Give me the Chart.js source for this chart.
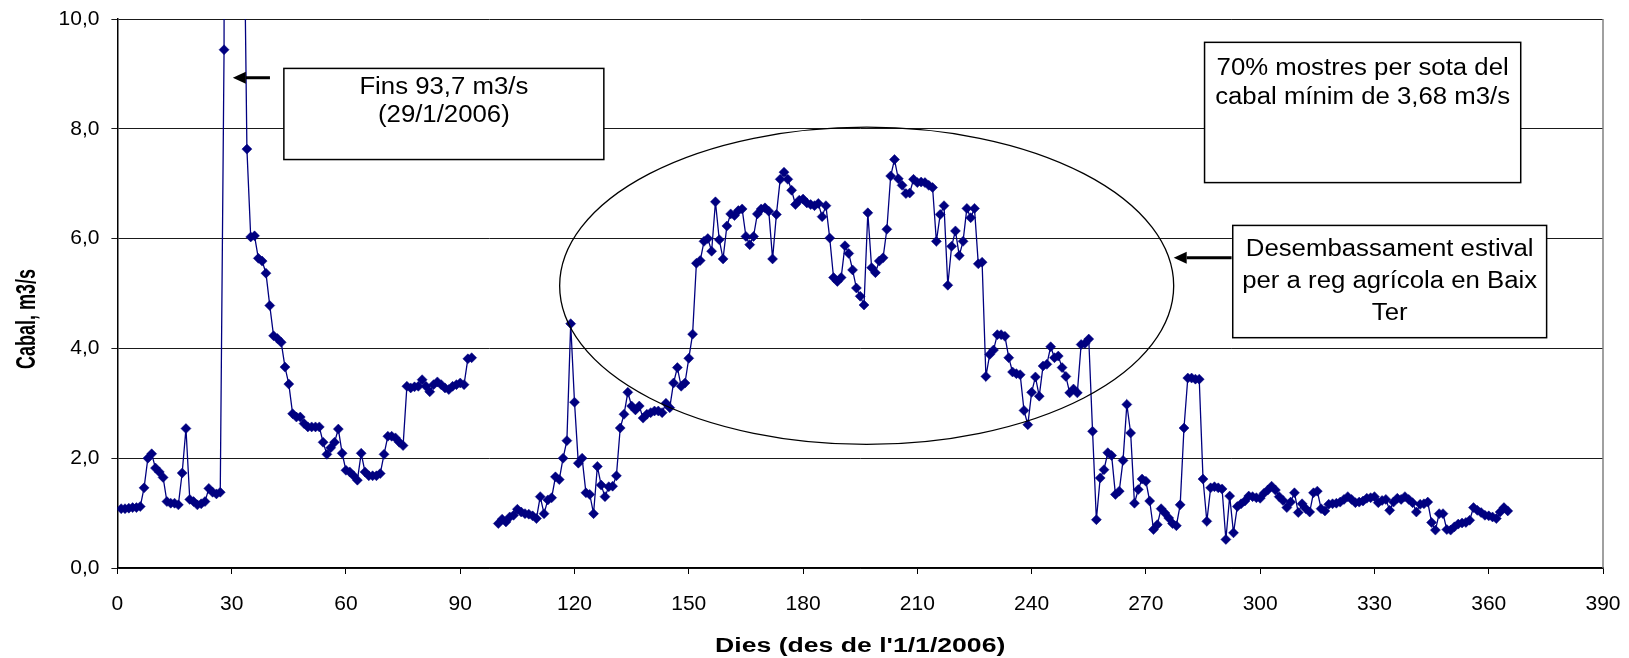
<!DOCTYPE html>
<html lang="ca">
<head>
<meta charset="utf-8">
<title>Cabal diari 2006</title>
<script src="https://cdn.jsdelivr.net/npm/chart.js@4/dist/chart.umd.min.js"></script>
<style>
  html, body { margin: 0; padding: 0; background: #fff; overflow: hidden; }
  #contenidor { width: 1629px; height: 658px; position: relative; }
</style>
</head>
<body>
<div id="contenidor"><canvas id="grafCabal"></canvas></div>
<script>
// Dades: cabal diari (m3/s), dies des de l'1/1/2006
const primerDiaTram1 = 1;
const cabalTram1 = [
  1.08, 1.08, 1.09, 1.10, 1.10, 1.12, 1.46, 2.00, 2.08, 1.82,
  1.75, 1.65, 1.21, 1.18, 1.18, 1.15, 1.73, 2.54, 1.25, 1.21,
  1.15, 1.17, 1.21, 1.45, 1.38, 1.35, 1.38, 9.44, 93.7, 48.0,
  27.0, 18.0, 13.5, 7.63, 6.03, 6.05, 5.64, 5.59, 5.37, 4.78,
  4.23, 4.18, 4.11, 3.66, 3.35, 2.81, 2.75, 2.75, 2.63, 2.57,
  2.57, 2.57, 2.57, 2.29, 2.07, 2.19, 2.29, 2.53, 2.09, 1.78,
  1.75, 1.68, 1.60, 2.09, 1.75, 1.68, 1.68, 1.68, 1.72, 2.07,
  2.40, 2.40, 2.37, 2.29, 2.23, 3.31, 3.28, 3.30, 3.31, 3.43,
  3.31, 3.21, 3.34, 3.39, 3.34, 3.28, 3.25, 3.31, 3.34, 3.37,
  3.34, 3.81, 3.83
];

const primerDiaTram2 = 100;
const cabalTram2 = [
  0.81, 0.89, 0.84, 0.93, 0.96, 1.07, 1.02, 0.99, 0.98, 0.95,
  0.90, 1.30, 0.99, 1.24, 1.28, 1.66, 1.61, 2.00, 2.32, 4.45,
  3.02, 1.91, 2.00, 1.37, 1.34, 0.99, 1.85, 1.51, 1.30, 1.48,
  1.49, 1.68, 2.55, 2.80, 3.20, 2.95, 2.88, 2.95, 2.73, 2.80,
  2.83, 2.86, 2.86, 2.83, 3.00, 2.92, 3.37, 3.65, 3.31, 3.37,
  3.82, 4.26, 5.55, 5.60, 5.95, 6.00, 5.77, 6.67, 5.98, 5.63,
  6.23, 6.45, 6.42, 6.51, 6.54, 6.04, 5.89, 6.04, 6.45, 6.54,
  6.56, 6.50, 5.63, 6.44, 7.08, 7.21, 7.08, 6.88, 6.62, 6.70,
  6.72, 6.65, 6.62, 6.60, 6.64, 6.40, 6.60, 6.01, 5.29, 5.22,
  5.29, 5.87, 5.73, 5.43, 5.10, 4.95, 4.79, 6.47, 5.47, 5.38,
  5.59, 5.65, 6.17, 7.14, 7.44, 7.09, 6.97, 6.82, 6.83, 7.08,
  7.02, 7.03, 7.02, 6.97, 6.93, 5.95, 6.44, 6.60, 5.15, 5.86,
  6.14, 5.69, 5.95, 6.55, 6.38, 6.55, 5.54, 5.57, 3.49, 3.89,
  3.97, 4.25, 4.25, 4.22, 3.83, 3.57, 3.54, 3.52, 2.87, 2.61,
  3.20, 3.48, 3.13, 3.68, 3.71, 4.03, 3.83, 3.86, 3.65, 3.49,
  3.19, 3.26, 3.19, 4.07, 4.09, 4.17, 2.49, 0.88, 1.64, 1.79,
  2.10, 2.05, 1.34, 1.40, 1.96, 2.98, 2.46, 1.18, 1.43, 1.62,
  1.58, 1.22, 0.70, 0.79, 1.08, 1.00, 0.91, 0.81, 0.77, 1.15,
  2.55, 3.46, 3.46, 3.44, 3.44, 1.62, 0.85, 1.46, 1.48, 1.46,
  1.44, 0.52, 1.31, 0.64, 1.12, 1.17, 1.22, 1.31, 1.30, 1.28,
  1.27, 1.36, 1.42, 1.49, 1.42, 1.30, 1.23, 1.10, 1.20, 1.37,
  1.01, 1.17, 1.08, 1.02, 1.37, 1.40, 1.08, 1.04, 1.16, 1.17,
  1.18, 1.20, 1.25, 1.30, 1.25, 1.19, 1.20, 1.22, 1.27, 1.28,
  1.30, 1.19, 1.23, 1.25, 1.05, 1.20, 1.27, 1.25, 1.30, 1.25,
  1.19, 1.02, 1.16, 1.17, 1.20, 0.83, 0.69, 0.99, 0.99, 0.70,
  0.69, 0.75, 0.80, 0.82, 0.83, 0.87, 1.10, 1.05, 1.01, 0.96,
  0.95, 0.93, 0.90, 1.02, 1.10, 1.04
];

// Eixos
const valorsX = [0, 30, 60, 90, 120, 150, 180, 210, 240, 270, 300, 330, 360, 390];
const valorsY = [0, 2, 4, 6, 8, 10];
const etiquetesY = ['0,0', '2,0', '4,0', '6,0', '8,0', '10,0'];

const TITOL_X = "Dies (des de l'1/1/2006)";
const TITOL_Y = 'Cabal, m3/s';

// Anotacions (en unitats de dades)
const anotacions = {
    ellipse: { cx: 196.7, cy: 5.14, rx: 80.6, ry: 2.89 },
    caixes: [
        { x0: 43.7, x1: 127.7, y0: 9.10, y1: 7.44, primera: 26, interlineat: 27.7,
          linies: ['Fins 93,7 m3/s', '(29/1/2006)'] },
        { x0: 285.4, x1: 368.4, y0: 9.575, y1: 7.02, primera: 33, interlineat: 29,
          linies: ['70% mostres per sota del', 'cabal mínim de 3,68 m3/s'] },
        { x0: 292.8, x1: 375.2, y0: 6.24, y1: 4.195, primera: 31, interlineat: 31.7,
          linies: ['Desembassament estival', 'per a reg agrícola en Baix', 'Ter'] }
    ],
    fletxes: [
        { x0: 40.05, x1: 30.3, y: 8.93 },
        { x0: 292.5, x1: 277.3, y: 5.65 }
    ]
};

const FONT = "'Liberation Sans', Arial, sans-serif";
const BLAU = '#000080';

function punts(primerDia, valors) {
    return valors.map((v, i) => ({ x: primerDia + i, y: v }));
}

function dibuixaFletxa(ctx, xa, xb, y) {
    const dir = Math.sign(xb - xa);
    const cap = 13, mig = 6;
    ctx.lineWidth = 3;
    ctx.beginPath();
    ctx.moveTo(xa, y);
    ctx.lineTo(xb - dir * cap, y);
    ctx.stroke();
    ctx.beginPath();
    ctx.moveTo(xb, y);
    ctx.lineTo(xb - dir * cap, y - mig);
    ctx.lineTo(xb - dir * cap, y + mig);
    ctx.closePath();
    ctx.fill();
}

const pluginAnotacions = {
    id: 'anotacions',
    beforeDatasetsDraw(chart) {
        // vora dreta de l'àrea del gràfic
        const { ctx, chartArea: a } = chart;
        ctx.save();
        ctx.strokeStyle = '#808080';
        ctx.lineWidth = 1.5;
        ctx.beginPath();
        ctx.moveTo(Math.round(a.right), a.top);
        ctx.lineTo(Math.round(a.right), a.bottom);
        ctx.stroke();
        ctx.restore();
    },
    afterDatasetsDraw(chart) {
        const { ctx, scales: { x, y } } = chart;
        ctx.save();
        ctx.strokeStyle = '#000';
        ctx.fillStyle = '#000';

        // el·lipse del desembassament
        const e = anotacions.ellipse;
        const ecx = x.getPixelForValue(e.cx), ecy = y.getPixelForValue(e.cy);
        ctx.lineWidth = 1.3;
        ctx.beginPath();
        ctx.ellipse(ecx, ecy,
            Math.abs(x.getPixelForValue(e.cx + e.rx) - ecx),
            Math.abs(y.getPixelForValue(e.cy + e.ry) - ecy),
            0, 0, Math.PI * 2);
        ctx.stroke();

        // caixes de text
        anotacions.caixes.forEach(c => {
            const l = x.getPixelForValue(c.x0), r = x.getPixelForValue(c.x1);
            const t = y.getPixelForValue(c.y0), b = y.getPixelForValue(c.y1);
            ctx.fillStyle = '#fff';
            ctx.fillRect(l, t, r - l, b - t);
            ctx.lineWidth = 1.5;
            ctx.strokeStyle = '#000';
            ctx.strokeRect(l, t, r - l, b - t);
            ctx.fillStyle = '#000';
            ctx.font = '23px ' + FONT;
            ctx.textAlign = 'center';
            ctx.textBaseline = 'alphabetic';
            c.linies.forEach((txt, i) => {
                ctx.save();
                ctx.translate((l + r) / 2, t + c.primera + i * c.interlineat);
                ctx.scale(1.12, 1);
                ctx.fillText(txt, 0, 0);
                ctx.restore();
            });
        });

        // fletxes
        anotacions.fletxes.forEach(f => {
            dibuixaFletxa(ctx, x.getPixelForValue(f.x0), x.getPixelForValue(f.x1), y.getPixelForValue(f.y));
        });
        ctx.restore();
    },
    afterDraw(chart) {
        // títols dels eixos
        const { ctx, chartArea: a } = chart;
        ctx.save();
        ctx.fillStyle = '#000';
        ctx.textAlign = 'center';
        ctx.textBaseline = 'alphabetic';
        ctx.font = 'bold 20px ' + FONT;

        ctx.save();
        ctx.translate((a.left + a.right) / 2, chart.height - 6);
        ctx.scale(1.33, 1);
        ctx.fillText(TITOL_X, 0, 0);
        ctx.restore();

        ctx.font = 'bold 18px ' + FONT;
        ctx.save();
        ctx.translate(35, 319);
        ctx.rotate(-Math.PI / 2);
        ctx.scale(1, 1.5);
        ctx.fillText(TITOL_Y, 0, 0);
        ctx.restore();

        ctx.restore();
    }
};

function estilTram(dades) {
    return {
        data: dades,
        borderColor: BLAU,
        backgroundColor: BLAU,
        borderWidth: 1.3,
        pointStyle: 'rectRot',
        pointRadius: 5,
        pointBorderWidth: 0.5,
        pointBackgroundColor: BLAU,
        pointBorderColor: BLAU,
        tension: 0,
        fill: false
    };
}

function renderCabal() {
    const ctx = document.getElementById('grafCabal');
    return new Chart(ctx, {
        type: 'line',
        data: {
            datasets: [
                estilTram(punts(primerDiaTram1, cabalTram1)),
                estilTram(punts(primerDiaTram2, cabalTram2))
            ]
        },
        options: {
            responsive: true,
            maintainAspectRatio: false,
            animation: false,
            layout: { padding: { top: 19, right: 26, left: 0, bottom: 0 } },
            plugins: {
                legend: { display: false },
                tooltip: { enabled: false },
                title: { display: false }
            },
            scales: {
                x: {
                    type: 'linear',
                    min: 0,
                    max: 390,
                    afterFit: (s) => {
                        s.height = 90;
                        s.paddingLeft = 0;
                        s.paddingRight = 0;
                    },
                    afterBuildTicks: (s) => { s.ticks = valorsX.map(v => ({ value: v })); },
                    ticks: {
                        color: '#000',
                        font: { family: FONT, size: 21 },
                        padding: 18,
                        maxRotation: 0,
                        callback: (v) => String(v)
                    },
                    grid: { drawOnChartArea: false, drawTicks: true, tickLength: 6, color: '#000' },
                    border: { display: true, color: '#000', width: 1.5 }
                },
                y: {
                    type: 'linear',
                    min: 0,
                    max: 10,
                    afterFit: (s) => {
                        s.width = 117.4;
                        s.paddingTop = 0;
                        s.paddingBottom = 0;
                    },
                    afterBuildTicks: (s) => { s.ticks = valorsY.map(v => ({ value: v })); },
                    ticks: {
                        color: '#000',
                        font: { family: FONT, size: 21 },
                        padding: 12,
                        callback: (v, i) => etiquetesY[i]
                    },
                    grid: { drawOnChartArea: true, drawTicks: true, tickLength: 6, color: '#1a1a1a', lineWidth: 1 },
                    border: { display: true, color: '#000', width: 1.5 }
                }
            }
        },
        plugins: [pluginAnotacions]
    });
}

document.addEventListener('DOMContentLoaded', function() {
    renderCabal();
});
</script>
</body>
</html>
